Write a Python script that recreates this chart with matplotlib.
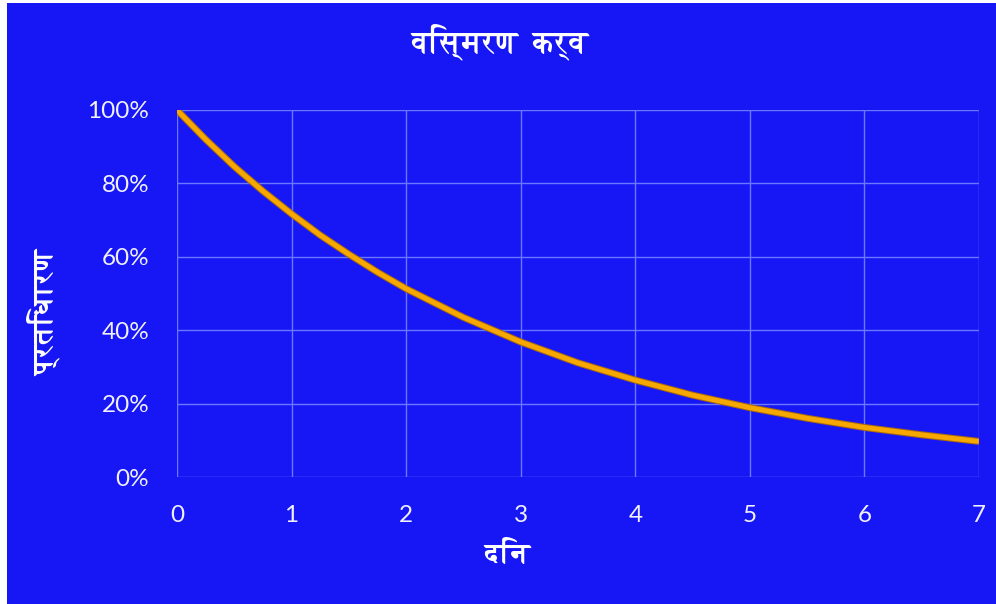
import matplotlib
matplotlib.use('Agg')
import matplotlib.pyplot as plt
import matplotlib.patheffects as pe
from matplotlib import font_manager
from matplotlib.ft2font import FT2Font
from matplotlib.ticker import PercentFormatter

# forgetting curve: retention by day
days = [0, 0.25, 0.5, 0.75, 1, 1.25, 1.5, 1.75, 2, 2.5, 3, 3.5, 4, 4.5,
        5, 5.5, 6, 6.5, 7]
retention = [1.00, 0.920, 0.846, 0.779, 0.717, 0.659, 0.607, 0.558, 0.513,
             0.435, 0.368, 0.311, 0.264, 0.223, 0.189, 0.160, 0.135, 0.115, 0.097]

x_ticks = [0, 1, 2, 3, 4, 5, 6, 7]
y_ticks = [0, 0.2, 0.4, 0.6, 0.8, 1.0]

title = 'विस्मरण  कर्व'
x_label = 'दिन'
y_label = 'प्रतिधारण'


def find_devanagari(bold=False):
    hits = []
    for f in font_manager.fontManager.ttflist:
        try:
            ft = FT2Font(f.fname)
            if ft.get_char_index(0x0915) and ft.get_char_index(0x093F):
                hits.append(f)
        except Exception:
            continue
    if not hits:
        return None
    hits.sort(key=lambda f: (f.weight in ('bold', 700)) != bold)
    return hits[0].name


deva = find_devanagari()
deva_bold = find_devanagari(bold=True) or deva
fam_bold = [deva_bold, 'Lato', 'DejaVu Sans'] if deva_bold else ['Lato', 'DejaVu Sans']

bg = '#1717f5'
grid_col = '#6a78ff'

fig = plt.figure(figsize=(9.96, 6.04), dpi=100)
fig.patch.set_facecolor('white')
fig.patches.append(plt.Rectangle((7 / 996, 0), 1, 1 - 3 / 604, transform=fig.transFigure,
                                 facecolor=bg, edgecolor='none', zorder=-1))

ax = fig.add_axes([177 / 996, 1 - 477 / 604, (979 - 177) / 996, (477 - 110) / 604])
ax.set_zorder(2)
ax.set_facecolor(bg)
ax.plot(days, retention, color='#f7a800', linewidth=3.5, solid_capstyle='butt',
        solid_joinstyle='round',
        path_effects=[pe.Stroke(linewidth=5, foreground='#a86a10'), pe.Normal()],
        zorder=3)

ax.set_xlim(0, 7)
ax.set_ylim(0, 1)
ax.set_xticks(x_ticks)
ax.set_yticks(y_ticks)
ax.yaxis.set_major_formatter(PercentFormatter(1.0, decimals=0))
ax.grid(True, color=grid_col, linewidth=1)
ax.set_axisbelow(True)
for s in ax.spines.values():
    s.set_visible(False)
ax.tick_params(length=0, colors='#f0f0ff', labelsize=17.5, pad=20)
for lbl in ax.get_xticklabels() + ax.get_yticklabels():
    lbl.set_family(['Lato', 'DejaVu Sans'])

fig.text(500 / 996, 1 - 42 / 604, title, ha='center', va='center', color='white',
         fontsize=22, fontweight='bold', family=fam_bold)
fig.text(507 / 996, 1 - 556 / 604, x_label, ha='center', va='center', color='white',
         fontsize=21, fontweight='bold', family=fam_bold)
fig.text(45 / 996, 1 - 313 / 604, y_label, ha='center', va='center', color='white',
         fontsize=21, fontweight='bold', family=fam_bold, rotation=90)

fig.savefig('out.png', dpi=100, facecolor=fig.get_facecolor())
